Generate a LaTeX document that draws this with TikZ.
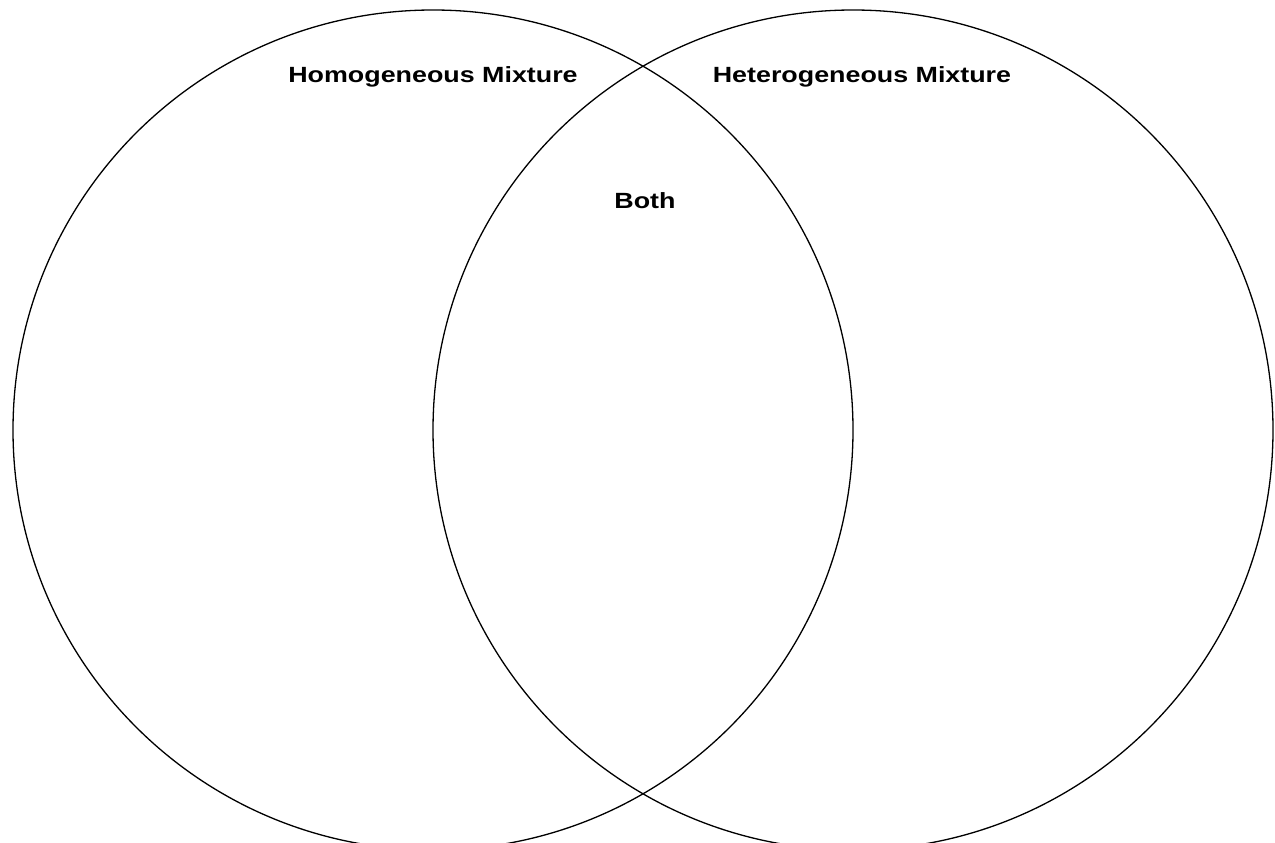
\documentclass[tikz,border=0pt]{standalone}
\usepackage{fontspec}
\setmainfont{Liberation Sans}
\newfontfamily\lblfont[FakeStretch=1.22]{Liberation Sans}
\begin{document}
\begin{tikzpicture}[x=1pt,y=-1pt,
  ring/.style={draw=black,line width=1.3pt},
  lbl/.style={font=\lblfont\fontsize{22}{26}\selectfont\bfseries,inner sep=0pt,anchor=base}]
\useasboundingbox[fill=white] (0,0) rectangle (1275,843);
\node[ring,circle,minimum size=840pt,inner sep=0pt] (homo) at (433,430) {};
\node[ring,circle,minimum size=840pt,inner sep=0pt] (hetero) at (853,430) {};
\node[lbl] (homolabel) at (433,83) {Homogeneous Mixture};
\node[lbl] (heterolabel) at (862,83) {Heterogeneous Mixture};
\node[lbl] (both) at (645,208) {Both};
\end{tikzpicture}
\end{document}
